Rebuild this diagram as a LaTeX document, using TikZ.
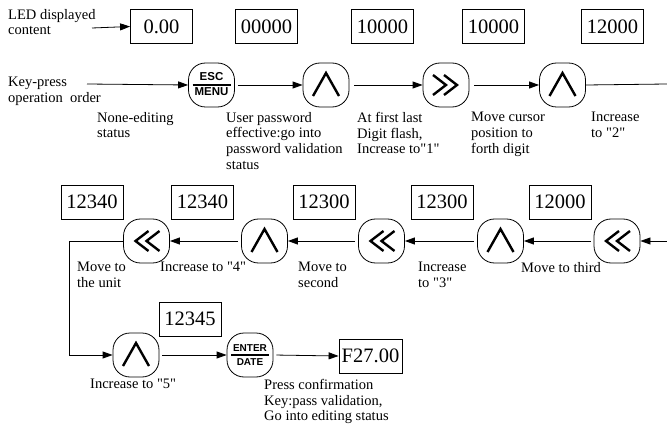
\documentclass[tikz,border=0pt]{standalone}
\usepackage{fontspec}
\setmainfont{Liberation Serif}[Ligatures=TeXOff]
\newfontfamily\btnfont{Liberation Sans}
\usetikzlibrary{arrows.meta}
\tikzset{
  disp/.style={draw, line width=0.8pt, minimum width=62pt, minimum height=34pt, inner sep=0pt, font=\fontsize{20.5}{24}\selectfont},
  key/.style={draw, line width=0.8pt, rectangle, rounded corners=17pt, minimum width=46pt, minimum height=44pt, inner sep=0pt},
  lbl/.style={anchor=north west, align=left, inner sep=0pt, font=\fontsize{14.5}{15.7}\selectfont},
  arr/.style={line width=0.8pt, -{Triangle[length=10pt,width=7pt]}},
  ln/.style={line width=0.8pt},
  sym/.style={line width=2.4pt, line cap=butt, line join=miter},
  btxt/.style={inner sep=0pt, font=\btnfont\bfseries\fontsize{11.5}{11.5}\selectfont}
}
\newcommand{\upsym}[1]{\draw[sym] ([shift={(-13,11)}]#1.center) -- ([shift={(0,-12)}]#1.center) -- ([shift={(13,11)}]#1.center);}
\newcommand{\rsym}[1]{\draw[sym] ([shift={(-13,-10)}]#1.center) -- ([shift={(0,0)}]#1.center) -- ([shift={(-13,10)}]#1.center);
  \draw[sym] ([shift={(-2,-10)}]#1.center) -- ([shift={(11,0)}]#1.center) -- ([shift={(-2,10)}]#1.center);}
\newcommand{\lsym}[1]{\draw[sym] ([shift={(13,-10)}]#1.center) -- ([shift={(0,0)}]#1.center) -- ([shift={(13,10)}]#1.center);
  \draw[sym] ([shift={(2,-10)}]#1.center) -- ([shift={(-11,0)}]#1.center) -- ([shift={(2,10)}]#1.center);}
\begin{document}
\begin{tikzpicture}[x=1pt,y=-1pt]
\useasboundingbox (0,0) rectangle (667,433);
% row 1 displays
\node[disp] (b1) at (161.5,26.5) {0.00};
\node[disp] (b2) at (266.5,26.5) {00000};
\node[disp] (b3) at (382.5,26.5) {10000};
\node[disp] (b4) at (493.5,26.5) {10000};
\node[disp] (b5) at (612.5,26.5) {12000};
% row 1 keys
\node[key] (esc) at (211.5,85) {};
\node[key] (u1) at (326,85) {};
\node[key] (ff) at (446,85) {};
\node[key] (u2) at (562.5,85) {};
\node[btxt] (esct) at ([yshift=8]esc.center) {ESC};
\node[btxt] (menut) at ([yshift=-7]esc.center) {MENU};
\draw[line width=1.4pt] ([xshift=-19]esc.center) -- ([xshift=19]esc.center);
\upsym{u1}
\rsym{ff}
\upsym{u2}
% row 1 labels
\node[lbl] (t1) at (8,9) {LED displayed\\content};
\node[lbl] (t2) at (8,77) {Key-press\\operation\ \ order};
\coordinate (a1) at (92,28);
\coordinate (k0) at (87,84);
\coordinate (e1) at (667,84);
\draw[arr] (a1) -- (b1.west);
\draw[arr] (k0) -- (esc.west);
\draw[arr, shorten <=3pt] (esc.east) -- (u1.west);
\draw[arr, shorten <=5pt] (u1.east) -- (ff.west);
\draw[arr, shorten <=5pt] (ff.east) -- (u2.west);
\draw[ln] (u2.east) -- (e1);
\node[lbl] (n1) at (97,112) {None-editing\\status};
\node[lbl] (n2) at (226,112) {User password\\effective:go into\\password validation\\status};
\node[lbl] (n3) at (357,112) {At first last\\Digit flash,\\Increase to"1"};
\node[lbl] (n4) at (471,112) {Move cursor\\position to\\forth digit};
\node[lbl] (n5) at (591,112) {Increase\\to "2"};
% row 2 displays
\node[disp] (c1) at (92,202) {12340};
\node[disp] (c2) at (202.5,202) {12340};
\node[disp] (c3) at (324,202) {12300};
\node[disp] (c4) at (442,202) {12300};
\node[disp] (c5) at (560,202) {12000};
% row 2 keys
\node[key] (l1) at (146.5,241) {};
\node[key] (v1) at (264.5,241) {};
\node[key] (l2) at (381.5,241) {};
\node[key] (v2) at (500.5,241) {};
\node[key] (l3) at (617,241) {};
\lsym{l1}
\upsym{v1}
\lsym{l2}
\upsym{v2}
\lsym{l3}
\coordinate (e2) at (667,241);
\draw[arr] (e2) -- (l3.east);
\draw[arr, shorten <=3pt] (l3.west) -- (v2.east);
\draw[arr, shorten <=3pt] (v2.west) -- (l2.east);
\draw[arr, shorten <=3pt] (l2.west) -- (v1.east);
\draw[arr, shorten <=3pt] (v1.west) -- (l1.east);
\node[lbl] (m1) at (77,262) {Move to\\the unit};
\node[lbl] (m2) at (160,262) {Increase to "4"};
\node[lbl] (m3) at (298,262) {Move to\\second};
\node[lbl] (m4) at (418,262) {Increase\\to "3"};
\node[lbl] (m5) at (521,262) {Move to third};
% row 3
\node[disp] (d1) at (190,319) {12345};
\node[key] (v3) at (136,355) {};
\node[key] (ent) at (250,355) {};
\node[disp, minimum width=63pt] (fin) at (370.5,356) {F27.00};
\upsym{v3}
\node[btxt, font=\btnfont\bfseries\fontsize{10}{10}\selectfont] (entt) at ([yshift=7]ent.center) {ENTER};
\node[btxt, font=\btnfont\bfseries\fontsize{10}{10}\selectfont] (datet) at ([yshift=-7.5]ent.center) {DATE};
\draw[line width=1.4pt] ([xshift=-19]ent.center) -- ([xshift=19]ent.center);
\coordinate (corner) at (69,241);
\draw[arr] (l1.west) -- (corner) |- (v3.west);
\draw[arr, shorten <=3pt] (v3.east) -- (ent.west);
\draw[arr, shorten <=3pt] (ent.east) -- (fin.west);
\node[lbl] (r1) at (90,379) {Increase to "5"};
\node[lbl] (r2) at (264,379) {Press confirmation\\Key:pass validation,\\Go into editing status};
\end{tikzpicture}
\end{document}
